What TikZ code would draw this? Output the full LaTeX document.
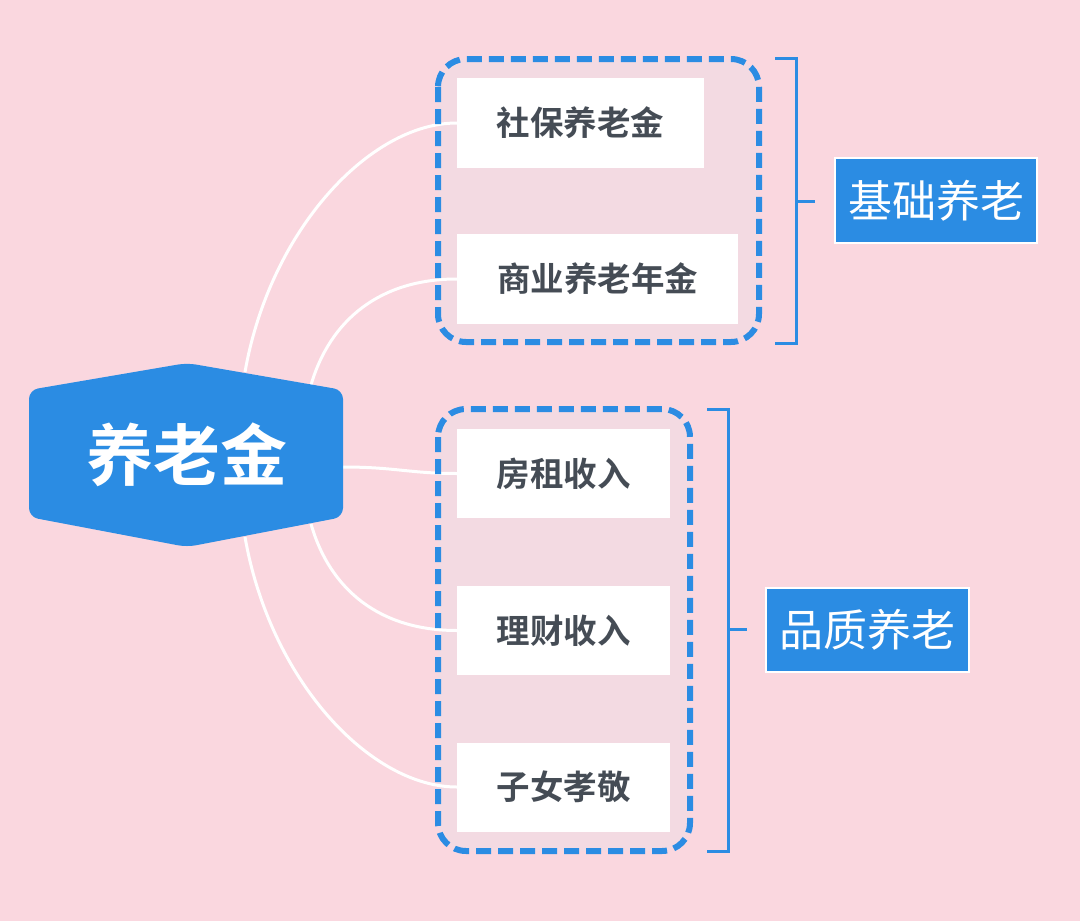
\documentclass[tikz,border=0pt]{standalone}
\usepackage{fontspec}
\newfontfamily\cjk{Noto Sans CJK SC}[BoldFont={Noto Sans CJK SC Bold}]
\definecolor{bg}{HTML}{FAD7DF}
\definecolor{grpfill}{HTML}{F3DAE2}
\definecolor{mainblue}{HTML}{2B8CE3}
\definecolor{txtgray}{HTML}{454C55}
\tikzset{
  itembox/.style={fill=white, inner sep=0pt, text=txtgray, font=\cjk\bfseries\fontsize{33.5}{36}\selectfont},
  labelbox/.style={fill=mainblue, draw=white, line width=2pt, inner sep=0pt, text=white, font=\cjk\fontsize{44}{48}\selectfont, minimum height=84pt},
  grpfillst/.style={fill=grpfill, rounded corners=28pt},
  grpborder/.style={draw=mainblue, line width=6pt, dash pattern=on 15pt off 7pt, rounded corners=28pt},
  link/.style={draw=white, line width=3pt},
  brack/.style={draw=mainblue, line width=3pt},
}
\begin{document}
\begin{tikzpicture}[x=1pt,y=-1pt]
\fill[bg] (0,0) rectangle (1080,921);
\useasboundingbox (0,0) rectangle (1080,921);
% group fills
\fill[grpfillst] (438,59) rectangle (759,342);
\fill[grpfillst] (438,409) rectangle (690,851);
% hexagon anchors
\coordinate (h1) at (245,372);
\coordinate (h2) at (311,385);
\coordinate (h3) at (343,467);
\coordinate (h4) at (311,524);
\coordinate (h5) at (245,537);
% items
\node[itembox, minimum width=247pt, minimum height=90pt] (a1) at (580.5,123) {社保养老金};
\node[itembox, minimum width=281pt, minimum height=90pt] (a2) at (597.5,279) {商业养老年金};
\node[itembox, minimum width=213pt, minimum height=89pt] (b1) at (563.5,473.5) {房租收入};
\node[itembox, minimum width=213pt, minimum height=89pt] (b2) at (563.5,630.5) {理财收入};
\node[itembox, minimum width=213pt, minimum height=89pt] (b3) at (563.5,787) {子女孝敬};
% connectors
\draw[link] (h1) .. controls (270,230) and (370,123) .. (a1.west);
\draw[link] (h2) .. controls (330,320) and (380,279) .. (a2.west);
\draw[link] (h3) .. controls (395,467) and (410,473.5) .. (b1.west);
\draw[link] (h4) .. controls (330,590) and (380,630.5) .. (b2.west);
\draw[link] (h5) .. controls (270,680) and (370,787) .. (b3.west);
% group borders
\draw[grpborder] (438,59) rectangle (759,342);
\draw[grpborder] (438,409) rectangle (690,851);
% hexagon
\fill[mainblue, rounded corners=9pt] (29,390) -- (187,363) -- (343,390) -- (343,517) -- (187,547) -- (29,517) -- cycle;
\node[text=white, font=\cjk\bfseries\fontsize{67}{72}\selectfont, inner sep=0pt] (root) at (187,455) {养老金};
% brackets
\draw[brack] (775,58) -- (796,58) -- (796,343) -- (775,343);
\coordinate (t1) at (815,201);
\draw[brack] (796,201) -- (t1);
\draw[brack] (707,409) -- (728,409) -- (728,851) -- (707,851);
\coordinate (t2) at (747,629);
\draw[brack] (728,629) -- (t2);
% labels
\node[labelbox, minimum width=202pt, minimum height=85pt] (l1) at (936,200.5) {基础养老};
\node[labelbox, minimum width=203pt] (l2) at (867.5,630) {品质养老};
\end{tikzpicture}
\end{document}
